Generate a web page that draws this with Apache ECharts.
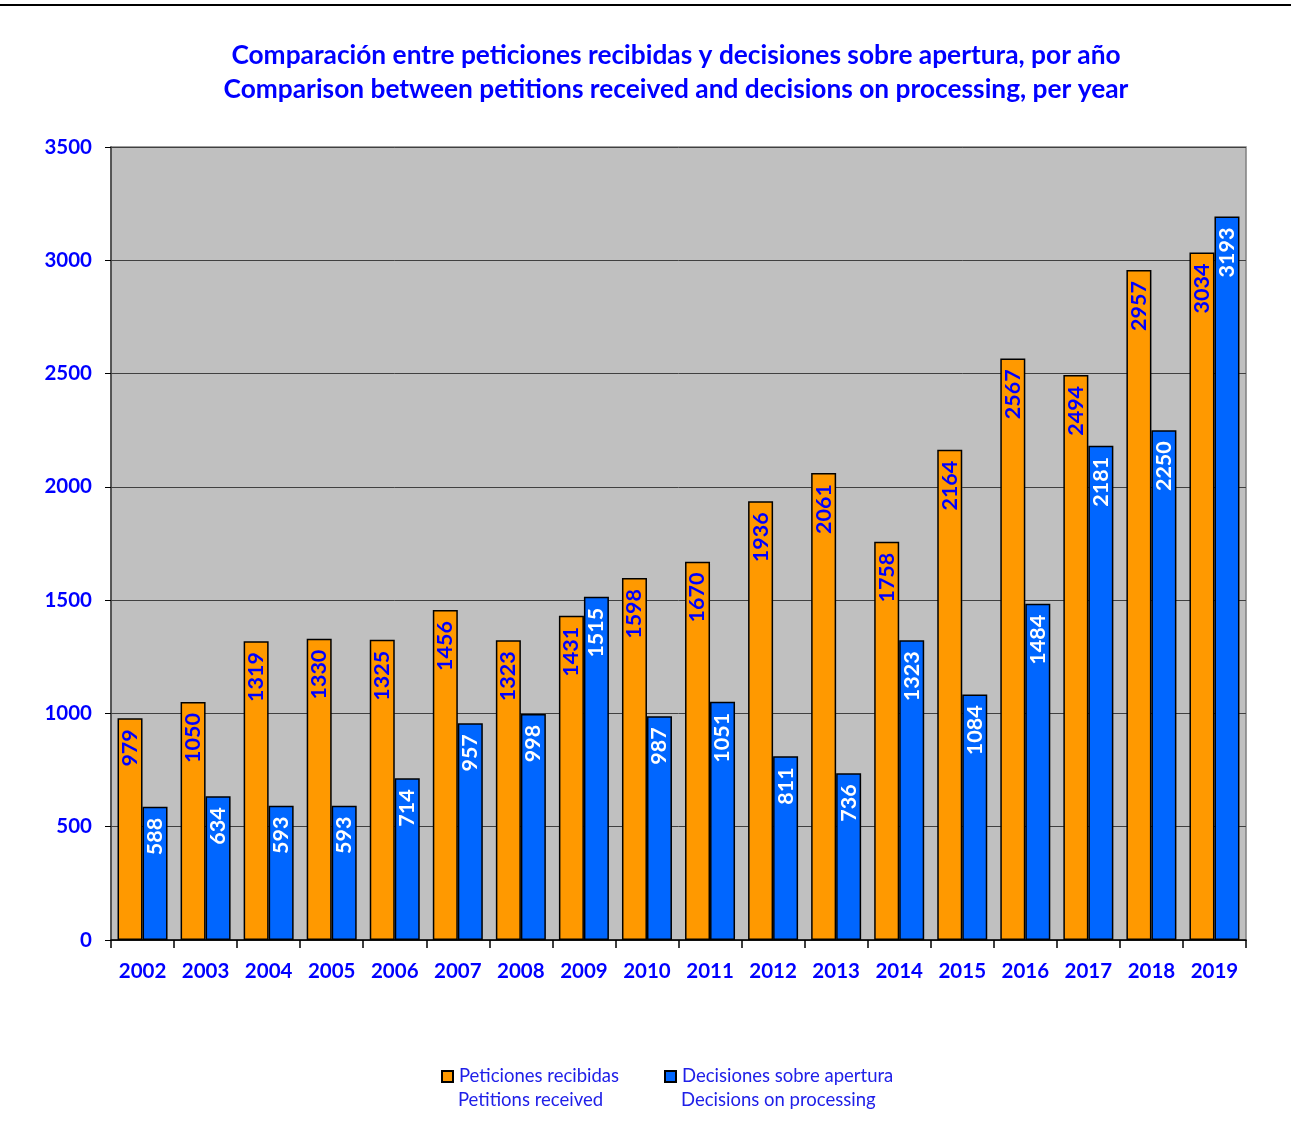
<!DOCTYPE html>
<html><head><meta charset="utf-8">
<script src="https://cdn.jsdelivr.net/npm/echarts@6/dist/echarts.min.js"></script>
<style>html,body{margin:0;padding:0;background:#fff}#c{width:1291px;height:1138px}</style>
</head><body><div id="c"></div>
<script>
const years = ['2002','2003','2004','2005','2006','2007','2008','2009','2010','2011','2012','2013','2014','2015','2016','2017','2018','2019'];
const petitions = [979,1050,1319,1330,1325,1456,1323,1431,1598,1670,1936,2061,1758,2164,2567,2494,2957,3034];
const decisions = [588,634,593,593,714,957,998,1515,987,1051,811,736,1323,1084,1484,2181,2250,3193];
const yTicks = {min: 0, max: 3500, interval: 500};
const titleLines = ['Comparación entre peticiones recibidas y decisiones sobre apertura, por año', 'Comparison between petitions received and decisions on processing, per year'];
const seriesNames = ['Peticiones recibidas', 'Decisiones sobre apertura'];
const seriesNamesEn = ['Petitions received', 'Decisions on processing'];

const F = 'Lato, "Open Sans", sans-serif';
const chart = echarts.init(document.getElementById('c'));
chart.setOption({
  animation: false,
  backgroundColor: '#ffffff',
  title: {
    text: titleLines.join('\n'), left: 671, top: 34, textAlign: 'center',
    textStyle: {color: '#0000FF', fontFamily: F, fontWeight: 'bold', fontSize: 26.3, lineHeight: 34}
  },
  graphic: [
    {type: 'line', shape: {x1: 0, y1: 5, x2: 1291, y2: 5}, style: {stroke: '#000', lineWidth: 2}},
    {type: 'text', left: 458, top: 1091, style: {text: seriesNamesEn[0], fill: '#2020E8', font: '18.5px ' + F}},
    {type: 'text', left: 681, top: 1091, style: {text: seriesNamesEn[1], fill: '#2020E8', font: '18.5px ' + F}}
  ],
  legend: [
    {data: [seriesNames[0]], left: 441, top: 1067, icon: 'rect', itemWidth: 11, itemHeight: 11, itemGap: 6, padding: 0,
     textStyle: {color: '#2020E8', fontFamily: F, fontSize: 18.5, padding: [0,0,0,1]}},
    {data: [seriesNames[1]], left: 664, top: 1067, icon: 'rect', itemWidth: 11, itemHeight: 11, itemGap: 6, padding: 0,
     textStyle: {color: '#2020E8', fontFamily: F, fontSize: 18.5, padding: [0,0,0,1]}}
  ],
  grid: {left: 111, right: 45, top: 147, bottom: 198, show: true, backgroundColor: '#C0C0C0', borderColor: '#808080', borderWidth: 1.5},
  xAxis: {
    type: 'category', data: years,
    axisLine: {lineStyle: {color: '#000', width: 1.5}},
    axisTick: {show: true, length: 8, lineStyle: {color: '#000', width: 1.5}},
    axisLabel: {color: '#0000FF', fontFamily: F, fontWeight: 'bold', fontSize: 20.5, margin: 21}
  },
  yAxis: {
    type: 'value', min: yTicks.min, max: yTicks.max, interval: yTicks.interval,
    axisLine: {show: true, lineStyle: {color: '#404040', width: 1.5}},
    axisTick: {show: true, length: 6, lineStyle: {color: '#000'}},
    axisLabel: {color: '#0000FF', fontFamily: F, fontWeight: 'bold', fontSize: 20.5, margin: 19, formatter: v => String(v)},
    splitLine: {lineStyle: {color: '#404040', width: 1}}
  },
  series: [
    {name: seriesNames[0], type: 'bar', data: petitions, barWidth: 25, barGap: '0%',
     itemStyle: {color: '#FF9900', borderColor: '#000', borderWidth: 1.5},
     label: {show: true, position: 'insideTop', rotate: 90, align: 'right', verticalAlign: 'middle', distance: 11,
       color: '#0000FF', fontFamily: F, fontWeight: 'bold', fontSize: 21.5}},
    {name: seriesNames[1], type: 'bar', data: decisions, barWidth: 25,
     itemStyle: {color: '#0066FF', borderColor: '#000', borderWidth: 1.5},
     label: {show: true, position: 'insideTop', rotate: 90, align: 'right', verticalAlign: 'middle', distance: 11,
       color: '#FFFFFF', fontFamily: F, fontWeight: 'bold', fontSize: 21.5}}
  ]
});
</script></body></html>
